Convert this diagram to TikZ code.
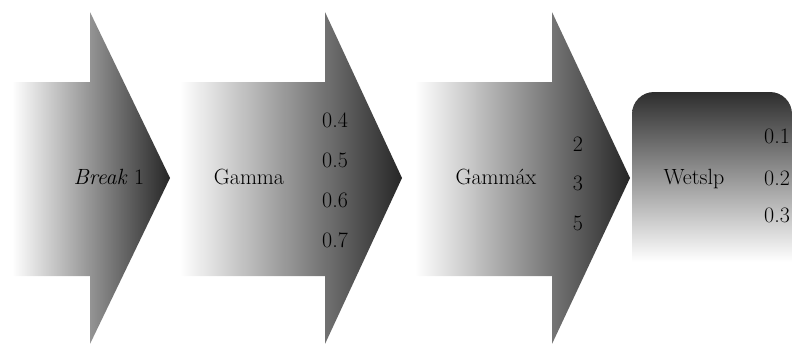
\documentclass[tikz,border=0pt]{standalone}
\begin{document}
\begin{tikzpicture}[x=1pt,y=-1pt,
  lbl/.style={anchor=base,inner sep=0pt,font=\fontsize{22}{26}\selectfont},
  arrowshade/.style={left color=white,middle color=black!60,right color=black!85},
  boxshade/.style={top color=black!82,bottom color=white}]
\useasboundingbox (0,0) rectangle (793,343);
\begin{scope}
\clip (0,0) rectangle (793,343);
% arrow 1
\shade[arrowshade] (12,82) -- (90,82) -- (90,12) -- (170,178) -- (90,344) -- (90,276) -- (12,276) -- cycle;
% arrow 2
\shade[arrowshade] (180,82) -- (325,82) -- (325,12) -- (402,178) -- (325,344) -- (325,276) -- (180,276) -- cycle;
% arrow 3
\shade[arrowshade] (415,82) -- (552,82) -- (552,12) -- (630,178) -- (552,344) -- (552,276) -- (415,276) -- cycle;
% box
\shade[boxshade] (632,262) -- (632,114) arc[start angle=180,end angle=270,radius=22] -- (770,92) arc[start angle=270,end angle=360,radius=22] -- (792,262) -- cycle;
\end{scope}
% labels
\node[lbl] (b1) at (109,184) {\textit{Break} 1};
\node[lbl] (g) at (249,184) {Gamma};
\node[lbl] (g4) at (335,127) {0.4};
\node[lbl] (g5) at (335,167) {0.5};
\node[lbl] (g6) at (335,207) {0.6};
\node[lbl] (g7) at (335,247) {0.7};
\node[lbl] (gx) at (496,184) {Gammáx};
\node[lbl] (x2) at (578,151) {2};
\node[lbl] (x3) at (578,190) {3};
\node[lbl] (x5) at (578,230) {5};
\node[lbl] (w) at (694,184) {Wetslp};
\node[lbl] (w1) at (777,143) {0.1};
\node[lbl] (w2) at (777,185) {0.2};
\node[lbl] (w3) at (777,222) {0.3};
\end{tikzpicture}
\end{document}
